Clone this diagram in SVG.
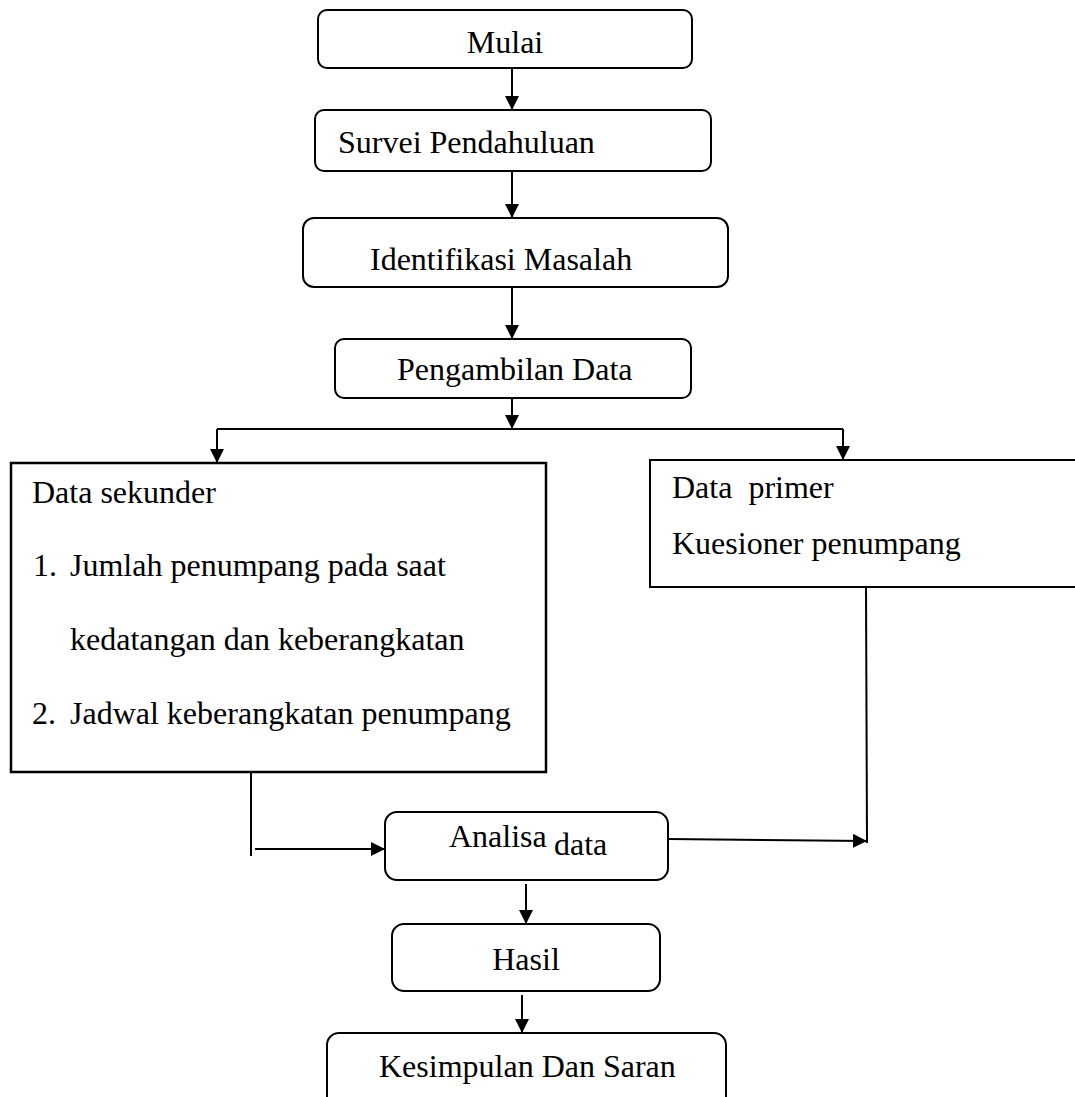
<svg xmlns="http://www.w3.org/2000/svg" width="1075" height="1097" viewBox="0 0 1075 1097">
<style>
.box{fill:#fff;stroke:#000;stroke-width:2}
.sq{fill:#fff;stroke:#000;stroke-width:2.5}
.t{font-family:"Liberation Serif","Times New Roman",serif;font-size:32px;fill:#000;white-space:pre}
.c{text-anchor:middle}
.ln{fill:none;stroke:#000;stroke-width:2}
</style>
<defs>
<marker id="ah" markerUnits="userSpaceOnUse" markerWidth="14" markerHeight="14" refX="14" refY="7" orient="auto">
<path d="M0,0 L14,7 L0,14 z" fill="#000"/>
</marker>
</defs>
<rect width="1075" height="1097" fill="#fff"/>
<g id="connectors">
<path class="ln" d="M512,68 L512,110" marker-end="url(#ah)"/>
<path class="ln" d="M512,171 L512,218" marker-end="url(#ah)"/>
<path class="ln" d="M512,287 L512,339" marker-end="url(#ah)"/>
<path class="ln" d="M512,398 L512,429" marker-end="url(#ah)"/>
<path class="ln" d="M217,429 L843,429"/>
<path class="ln" d="M217,429 L217,463" marker-end="url(#ah)"/>
<path class="ln" d="M843,429 L843,460" marker-end="url(#ah)"/>
<path class="ln" d="M251,772 L251,856"/>
<path class="ln" d="M255,849 L385,849" marker-end="url(#ah)"/>
<path class="ln" d="M866,587 L867,843"/>
<path class="ln" d="M668,839 L867,841" marker-end="url(#ah)"/>
<path class="ln" d="M526,884 L526,924" marker-end="url(#ah)"/>
<path class="ln" d="M522,995 L522,1033" marker-end="url(#ah)"/>
</g>
<g id="mulai">
<rect class="box" x="318" y="10" width="374" height="58" rx="9"/>
<text class="t c" x="505" y="53">Mulai</text>
</g>
<g id="survei">
<rect class="box" x="315" y="110" width="396" height="61" rx="9"/>
<text class="t" x="338" y="153">Survei Pendahuluan</text>
</g>
<g id="identifikasi">
<rect class="box" x="303" y="218" width="425" height="69" rx="11"/>
<text class="t" x="370" y="270">Identifikasi Masalah</text>
</g>
<g id="pengambilan">
<rect class="box" x="335" y="339" width="356" height="59" rx="9"/>
<text class="t" x="397" y="380">Pengambilan Data</text>
</g>
<g id="sekunder">
<rect class="sq" x="11" y="463" width="535" height="309"/>
<text class="t" x="32" y="503">Data sekunder</text>
<text class="t" x="33" y="576">1.</text>
<text class="t" x="70" y="576">Jumlah penumpang pada saat</text>
<text class="t" x="70" y="650">kedatangan dan keberangkatan</text>
<text class="t" x="32" y="724">2.</text>
<text class="t" x="70" y="724">Jadwal keberangkatan penumpang</text>
</g>
<g id="primer">
<path class="box" d="M1076,460 L650,460 L650,587 L1076,587"/>
<text class="t" x="672" y="498">Data  primer</text>
<text class="t" x="672" y="554">Kuesioner penumpang</text>
</g>
<g id="analisa">
<rect class="box" x="385" y="812" width="283" height="68" rx="12"/>
<text class="t" x="449" y="847">Analisa</text>
<text class="t" x="554" y="855">data</text>
</g>
<g id="hasil">
<rect class="box" x="392" y="924" width="268" height="67" rx="12"/>
<text class="t c" x="526" y="970">Hasil</text>
</g>
<g id="kesimpulan">
<rect class="box" x="327" y="1033" width="399" height="90" rx="12"/>
<text class="t" x="379" y="1077">Kesimpulan Dan Saran</text>
</g>
</svg>
